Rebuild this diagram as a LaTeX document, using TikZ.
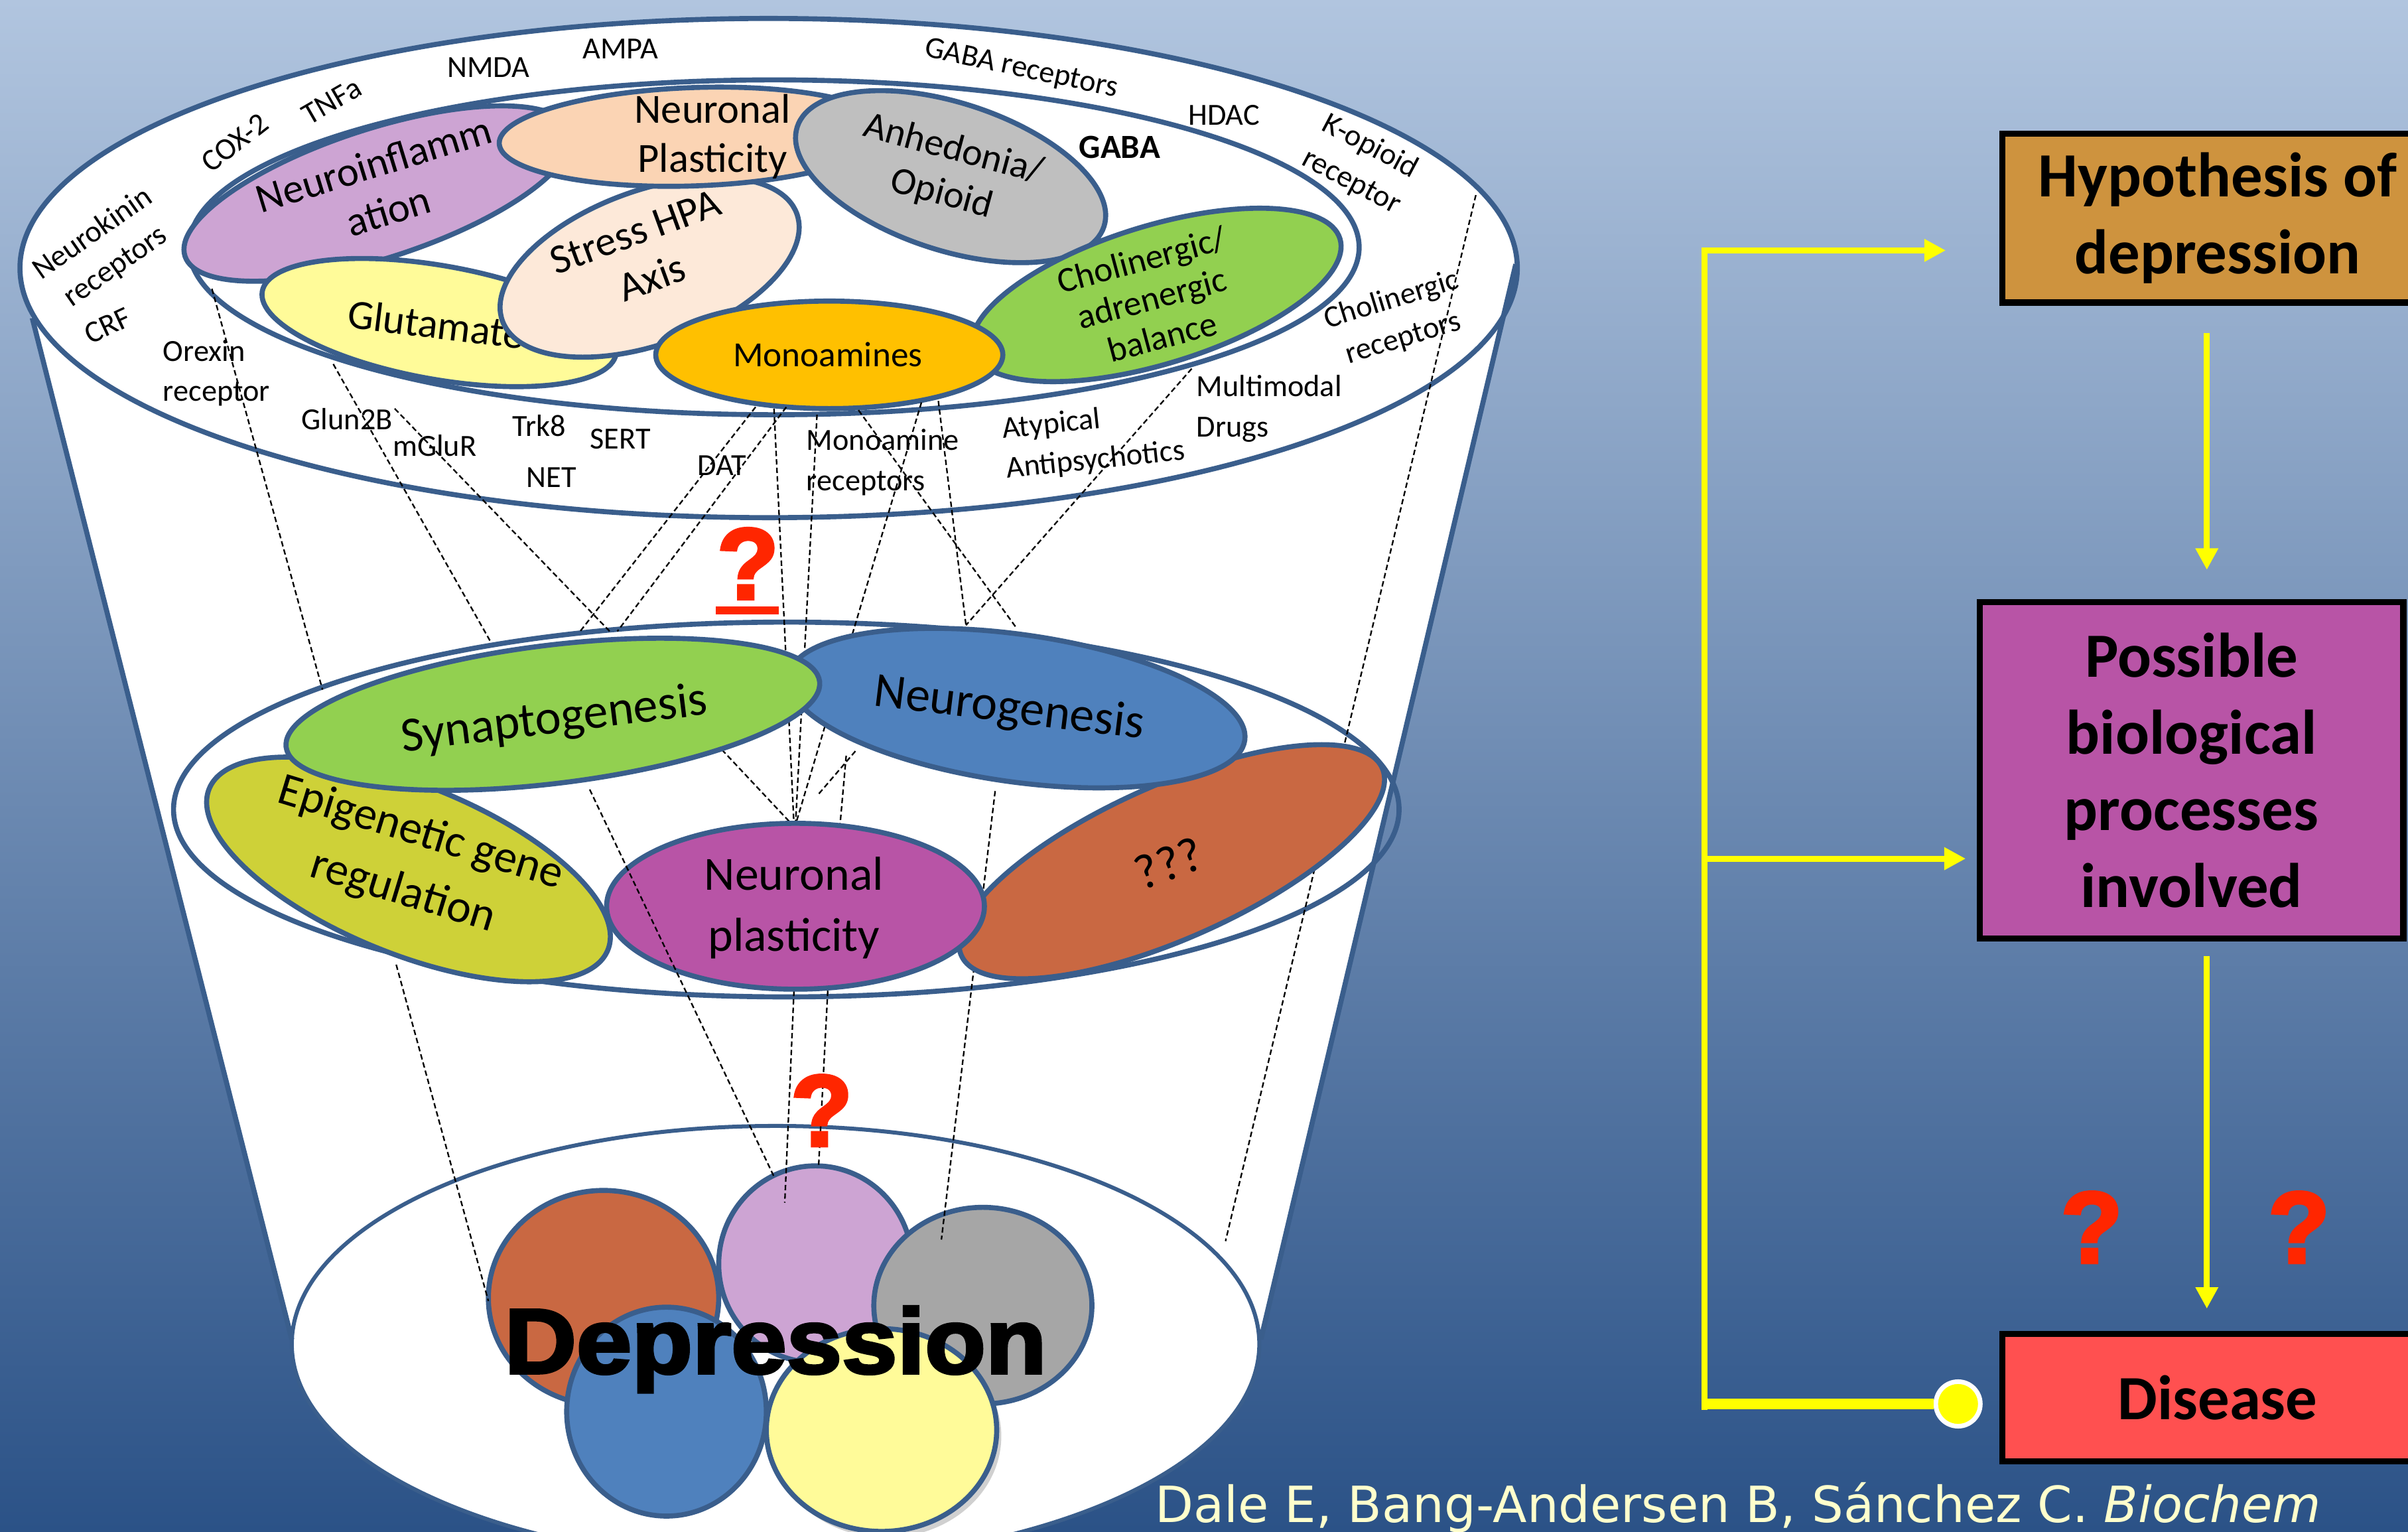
\documentclass[tikz,border=0pt]{standalone}
\usepackage{fontspec}
\setmainfont{Carlito}
\newfontfamily\heavyfont[BoldFeatures={FakeBold=3}]{Liberation Sans}
\newfontfamily\citefont{DejaVu Sans}
\usetikzlibrary{shapes.geometric,arrows.meta,shadows}

\definecolor{bgtop}{RGB}{177,197,223}
\definecolor{bgbot}{RGB}{43,82,135}
\definecolor{edge}{RGB}{58,94,140}
\definecolor{lilac}{RGB}{205,164,211}
\definecolor{peach}{RGB}{251,212,180}
\definecolor{cream}{RGB}{253,233,217}
\definecolor{greyfill}{RGB}{191,191,191}
\definecolor{paleyellow}{RGB}{255,251,153}
\definecolor{amber}{RGB}{255,192,0}
\definecolor{leaf}{RGB}{146,208,80}
\definecolor{steel}{RGB}{79,129,189}
\definecolor{olive}{RGB}{206,209,56}
\definecolor{magenta}{RGB}{184,84,166}
\definecolor{rust}{RGB}{201,104,66}
\definecolor{darkgrey}{RGB}{166,166,166}
\definecolor{hypc}{RGB}{206,147,62}
\definecolor{disc}{RGB}{255,80,80}
\definecolor{qred}{RGB}{255,38,0}
\definecolor{yline}{RGB}{255,255,0}
\definecolor{citec}{RGB}{255,255,204}

\tikzset{
  outl/.style={draw=edge, line width=3.3pt},
  blob/.style={ellipse, draw=edge, line width=3.3pt, inner sep=0pt, outer sep=0pt},
  ring/.style={font=\fontsize{20}{26}\selectfont, align=center, inner sep=0pt},
  toptxt/.style={font=\fontsize{27}{32}\selectfont, align=center, inner sep=0pt},
  midtxt/.style={font=\fontsize{32}{40}\selectfont, align=center, inner sep=0pt},
  link/.style={draw=black, line width=1pt, dash pattern=on 3.5pt off 2pt},
  qmark/.style={text=qred, font=\heavyfont\bfseries\fontsize{66}{66}\selectfont, inner sep=0pt, anchor=base},
  flowbox/.style={draw=black, line width=4pt, inner sep=0pt, outer sep=0pt, align=center,
    font=\bfseries\fontsize{41}{50}\selectfont},
  yarr/.style={draw=yline, line width=4pt, -{Triangle[length=14pt,width=14pt]}},
}

\begin{document}
\begin{tikzpicture}[x=1pt,y=-1pt]
\useasboundingbox (0,0) rectangle (1568,997);
\fill[top color=bgtop, bottom color=bgbot] (0,0) rectangle (1568,997);

\begin{scope}
\clip (0,0) rectangle (1568,997);
% funnel body
\fill[white] (500.5,174.5) ellipse [x radius=487.5, y radius=162.5];
\fill[white] (20,205) -- (986,176) -- (822,868) -- (190,868) -- cycle;
\fill[white] (505,875) ellipse [x radius=315, y radius=142];
\draw[outl] (500.5,174.5) ellipse [x radius=487.5, y radius=162.5];
\draw[outl] (21,207) -- (190,872);
\draw[outl] (987,172) -- (821,872);
\draw[draw=edge, line width=2.6pt] (505,875) ellipse [x radius=315, y radius=142];

% depression cluster
\node[blob, fill=rust, minimum width=150, minimum height=140] (d-rust) at (393,845) {};
\node[blob, fill=lilac, minimum width=126, minimum height=128] (d-lilac) at (531,823) {};
\node[blob, fill=darkgrey, minimum width=142, minimum height=128] (d-grey) at (640,850) {};
\node[blob, fill=steel, minimum width=130, minimum height=136] (d-blue) at (434,919) {};
\node[blob, fill=paleyellow, minimum width=150, minimum height=132,
      drop shadow={shadow xshift=3pt, shadow yshift=-4pt, opacity=.3, fill=black!60}] (d-yellow) at (574,931) {};
\node[font=\heavyfont\bfseries\fontsize{60}{60}\selectfont, xscale=1.08, transform shape,
      anchor=base, inner sep=0pt] (dep) at (505,894) {Depression};
\end{scope}

% upper ring
\draw[outl] (504,161) ellipse [x radius=381, y radius=109];
\node[blob, fill=lilac, minimum width=264, minimum height=84, rotate=18] (e-ninf) at (246,126) {};
\node[toptxt, rotate=17] (t-ninf) at (248,122) {Neuroinflamm\\ation};
\node[blob, fill=paleyellow, minimum width=234, minimum height=74, rotate=-10] (e-glu) at (286,210) {};
\node[toptxt, rotate=-7] (t-glu) at (284,211) {Glutamate};
\node[blob, fill=cream, minimum width=204, minimum height=100, rotate=20] (e-hpa) at (423,174) {};
\node[toptxt, rotate=20] (t-hpa) at (419,166) {Stress HPA\\Axis};
\node[blob, fill=peach, minimum width=254, minimum height=64, rotate=2] (e-npl) at (452,89) {};
\node[toptxt] (t-npl) at (464,89) {Neuronal\\Plasticity};
\node[blob, fill=greyfill, minimum width=210, minimum height=96, rotate=-18] (e-anh) at (619,115) {};
\node[font=\fontsize{25}{30}\selectfont, align=center, inner sep=0pt, rotate=-15] (t-anh) at (617,112) {Anhedonia/\\Opioid};
\node[blob, fill=leaf, minimum width=250, minimum height=90, rotate=17] (e-cho) at (753,192) {};
\node[font=\fontsize{23}{26}\selectfont, align=center, inner sep=0pt, rotate=15] (t-cho) at (750,194) {Cholinergic/\\adrenergic\\balance};
\node[blob, fill=amber, minimum width=226, minimum height=70] (e-mono) at (540,231) {};
\node[font=\fontsize{23}{26}\selectfont, inner sep=0pt] (t-mono) at (539,231) {Monoamines};

% labels round the upper ring
\node[ring, rotate=35] (l-nk) at (68,163) {Neurokinin\\receptors};
\node[ring, rotate=25] (l-crf) at (70,212) {CRF};
\node[ring, rotate=38] (l-cox) at (153,93) {COX-2};
\node[ring, rotate=30] (l-tnf) at (216,66) {TNFa};
\node[ring] (l-nmda) at (318,44) {NMDA};
\node[ring] (l-ampa) at (404,32) {AMPA};
\node[ring, rotate=-12] (l-gabar) at (665,45) {GABA receptors};
\node[ring] (l-hdac) at (797,75) {HDAC};
\node[ring, font=\bfseries\fontsize{22}{26}\selectfont] (l-gaba) at (729,96) {GABA};
\node[ring, rotate=-28] (l-kop) at (886,107) {K-opioid\\receptor};
\node[ring, rotate=17] (l-chr) at (910,208) {Cholinergic\\receptors};
\node[ring, align=left, anchor=west] (l-orx) at (106,243) {Orexin\\receptor};
\node[ring] (l-glun) at (226,273) {Glun2B};
\node[ring] (l-mglur) at (283,290) {mGluR};
\node[ring] (l-trk) at (351,277) {Trk8};
\node[ring] (l-sert) at (404,286) {SERT};
\node[ring] (l-net) at (359,311) {NET};
\node[ring] (l-dat) at (470,303) {DAT};
\node[ring, align=left, anchor=west] (l-mar) at (525,301) {Monoamine\\receptors};
\node[ring, align=left, rotate=6] (l-aap) at (712,287) {Atypical\\Antipsychotics};
\node[ring, align=left, anchor=west] (l-mmd) at (779,266) {Multimodal\\Drugs};

% middle ring
\draw[outl] (512,527) ellipse [x radius=399, y radius=122];

% link end points
\coordinate (a1) at (138,188);  \coordinate (b1) at (210,449);
\coordinate (a2) at (217,237);  \coordinate (b2) at (319,417);
\coordinate (a3) at (257,266);  \coordinate (b3) at (397,411);
\coordinate (a4) at (492,265);  \coordinate (b4) at (377,412);
\coordinate (a5) at (512,265);  \coordinate (b5) at (402,411);
\coordinate (a6) at (504,266);  \coordinate (b6) at (517,537);
\coordinate (a7) at (532,270);  \coordinate (b7) at (518,537);
\coordinate (a8) at (600,262);  \coordinate (b8) at (518,537);
\coordinate (a9) at (611,261);  \coordinate (b9) at (629,407);
\coordinate (a10) at (559,267); \coordinate (b10) at (662,409);
\coordinate (a11) at (776,240); \coordinate (b11) at (629,407);
\coordinate (c1) at (258,628);  \coordinate (f1) at (318,847);
\coordinate (c2) at (384,514);  \coordinate (f2) at (504,766);
\coordinate (c3) at (470,488);  \coordinate (f3) at (516,537);
\coordinate (c4) at (557,489);  \coordinate (f4) at (533,517);
\coordinate (c6) at (551,492);  \coordinate (f6) at (547,537);
\coordinate (c7) at (539,645);  \coordinate (f7) at (533,760);
\coordinate (c8) at (517,645);  \coordinate (f8) at (511,783);
\coordinate (c9) at (648,515);  \coordinate (f9) at (613,807);
\coordinate (c10) at (961,127); \coordinate (f10) at (798,808);

\foreach \s/\e in {a1/b1,a2/b2,a3/b3,a4/b4,a5/b5,a6/b6,a7/b7,a8/b8,a9/b9,a10/b10,a11/b11,
                   c1/f1,c3/f3,c4/f4,c6/f6,c7/f7,c8/f8,c9/f9,c10/f10}
  \draw[link] (\s) -- (\e);

% middle processes
\node[blob, fill=rust, minimum width=300, minimum height=100, rotate=24] (e-unk) at (763,561) {};
\node[midtxt, rotate=20] (t-unk) at (761,562) {???};
\node[blob, fill=steel, minimum width=300, minimum height=96, rotate=-8] (e-neu) at (662,461) {};
\node[midtxt, rotate=-7] (t-neu) at (657,462) {Neurogenesis};
\node[blob, fill=magenta, minimum width=246, minimum height=108] (e-pla) at (518,590) {};
\node[midtxt, font=\fontsize{31}{40}\selectfont] (t-pla) at (517,591) {Neuronal\\plasticity};
\node[blob, fill=olive, minimum width=280, minimum height=110, rotate=-22] (e-epi) at (266,566) {};
\node[midtxt, font=\fontsize{30}{40}\selectfont, rotate=-17] (t-epi) at (268,562) {Epigenetic gene\\regulation};
\node[blob, fill=leaf, minimum width=350, minimum height=90, rotate=7] (e-syn) at (360,465) {};
\node[midtxt, rotate=7] (t-syn) at (361,469) {Synaptogenesis};

\draw[link] (c2) -- (f2);

% question marks
\node[qmark] (q1) at (487,390) {?};
\fill[qred] (466,395) rectangle (507,400);
\node[qmark] (q2) at (535,746) {?};
\node[qmark] (q3) at (1362,822) {?};
\node[qmark] (q4) at (1497,822) {?};

% flow on the right
\node[flowbox, fill=hypc, minimum width=280, minimum height=110] (hyp) at (1444,142) {Hypothesis of\\depression};
\node[flowbox, fill=magenta, minimum width=276, minimum height=219] (poss) at (1427,501.5) {Possible\\biological\\processes\\involved};
\node[flowbox, fill=disc, minimum width=280, minimum height=83] (dis) at (1444,910) {Disease};

\coordinate (bus-t) at (1110,161);
\coordinate (bus-1) at (1110,163);
\coordinate (bus-2) at (1110,559);
\coordinate (bus-3) at (1110,914);
\coordinate (bus-b) at (1110,918);
\node[circle, fill=yline, draw=white, line width=3pt, minimum size=29pt, inner sep=0pt] (dot) at (1275,914) {};

\draw[draw=yline, line width=4pt] (bus-t) -- (bus-b);
\draw[yarr, shorten >=37pt] (bus-1) -- (hyp.west |- bus-1);
\draw[yarr, shorten >=9pt] (bus-2) -- (poss.west |- bus-2);
\draw[draw=yline, line width=7pt] (bus-3) -- (dot);
\draw[yarr, shorten <=20pt, shorten >=21pt] ([xshift=-7pt]hyp.south) -- ([xshift=10pt]poss.north);
\draw[yarr, shorten <=11.5pt, shorten >=16.5pt] ([xshift=10pt]poss.south) -- ([xshift=-7pt]dis.north);

% reference line
\node[anchor=base west, inner sep=0pt, text=citec, font=\citefont\fontsize{32.5}{38}\selectfont] (cite)
  at (752,991) {Dale E, Bang-Andersen B, Sánchez C. \textit{Biochem}};
\end{tikzpicture}
\end{document}
